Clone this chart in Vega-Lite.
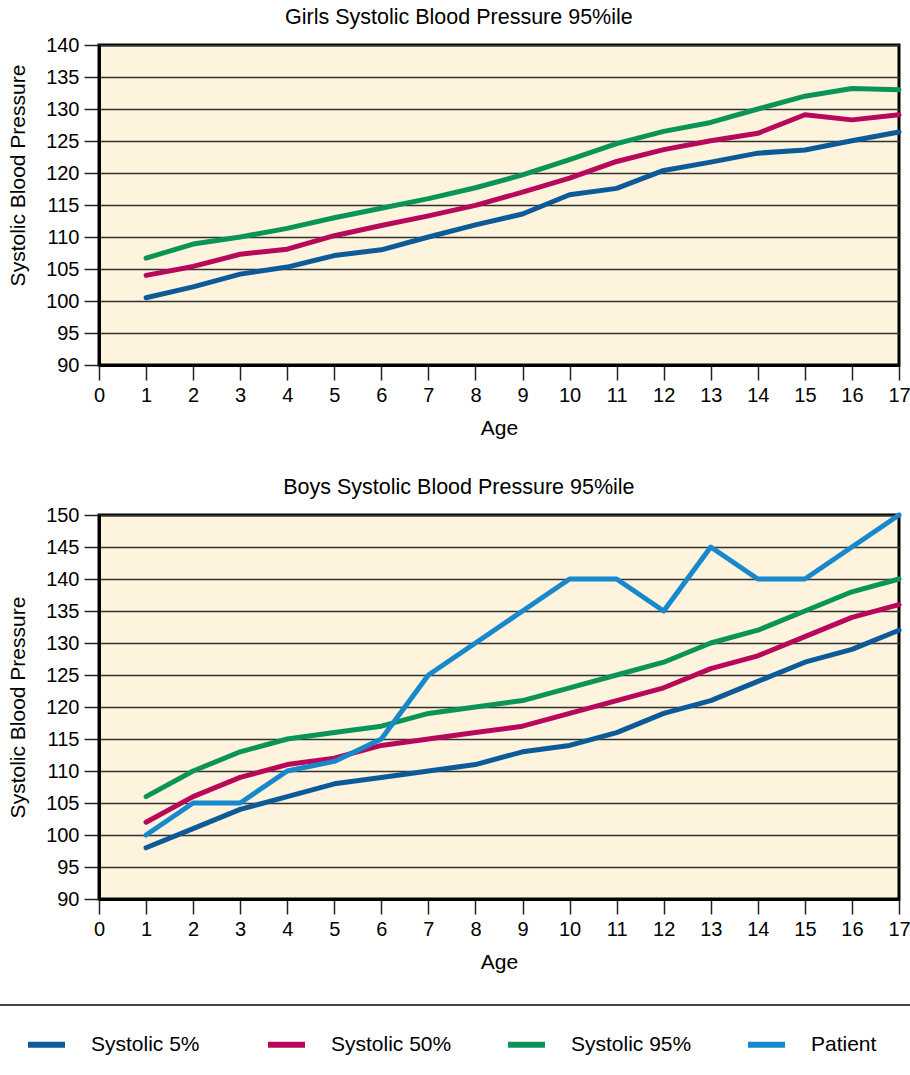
{
  "$schema": "https://vega.github.io/schema/vega-lite/v6.json",
  "background": "white",
  "padding": {"left": -14, "top": 5, "right": 0, "bottom": 0},
  "datasets": {
    "girls": [
      {"age":1,"series":"Systolic 5%","bp":100.5},{"age":2,"series":"Systolic 5%","bp":102.2},{"age":3,"series":"Systolic 5%","bp":104.2},{"age":4,"series":"Systolic 5%","bp":105.3},{"age":5,"series":"Systolic 5%","bp":107.1},{"age":6,"series":"Systolic 5%","bp":108.0},{"age":7,"series":"Systolic 5%","bp":110.0},{"age":8,"series":"Systolic 5%","bp":111.9},{"age":9,"series":"Systolic 5%","bp":113.6},{"age":10,"series":"Systolic 5%","bp":116.6},{"age":11,"series":"Systolic 5%","bp":117.6},{"age":12,"series":"Systolic 5%","bp":120.4},{"age":13,"series":"Systolic 5%","bp":121.7},{"age":14,"series":"Systolic 5%","bp":123.1},{"age":15,"series":"Systolic 5%","bp":123.6},{"age":16,"series":"Systolic 5%","bp":125.05},{"age":17,"series":"Systolic 5%","bp":126.4},
      {"age":1,"series":"Systolic 50%","bp":104.0},{"age":2,"series":"Systolic 50%","bp":105.4},{"age":3,"series":"Systolic 50%","bp":107.3},{"age":4,"series":"Systolic 50%","bp":108.1},{"age":5,"series":"Systolic 50%","bp":110.2},{"age":6,"series":"Systolic 50%","bp":111.8},{"age":7,"series":"Systolic 50%","bp":113.3},{"age":8,"series":"Systolic 50%","bp":114.95},{"age":9,"series":"Systolic 50%","bp":117.0},{"age":10,"series":"Systolic 50%","bp":119.2},{"age":11,"series":"Systolic 50%","bp":121.8},{"age":12,"series":"Systolic 50%","bp":123.65},{"age":13,"series":"Systolic 50%","bp":125.05},{"age":14,"series":"Systolic 50%","bp":126.2},{"age":15,"series":"Systolic 50%","bp":129.1},{"age":16,"series":"Systolic 50%","bp":128.3},{"age":17,"series":"Systolic 50%","bp":129.1},
      {"age":1,"series":"Systolic 95%","bp":106.7},{"age":2,"series":"Systolic 95%","bp":108.9},{"age":3,"series":"Systolic 95%","bp":110.0},{"age":4,"series":"Systolic 95%","bp":111.35},{"age":5,"series":"Systolic 95%","bp":113.0},{"age":6,"series":"Systolic 95%","bp":114.5},{"age":7,"series":"Systolic 95%","bp":116.0},{"age":8,"series":"Systolic 95%","bp":117.7},{"age":9,"series":"Systolic 95%","bp":119.7},{"age":10,"series":"Systolic 95%","bp":122.1},{"age":11,"series":"Systolic 95%","bp":124.6},{"age":12,"series":"Systolic 95%","bp":126.5},{"age":13,"series":"Systolic 95%","bp":127.9},{"age":14,"series":"Systolic 95%","bp":130.0},{"age":15,"series":"Systolic 95%","bp":132.0},{"age":16,"series":"Systolic 95%","bp":133.2},{"age":17,"series":"Systolic 95%","bp":133.0}
    ],
    "boys": [
      {"age":1,"series":"Systolic 5%","bp":98},{"age":2,"series":"Systolic 5%","bp":101},{"age":3,"series":"Systolic 5%","bp":104},{"age":4,"series":"Systolic 5%","bp":106},{"age":5,"series":"Systolic 5%","bp":108},{"age":6,"series":"Systolic 5%","bp":109},{"age":7,"series":"Systolic 5%","bp":110},{"age":8,"series":"Systolic 5%","bp":111},{"age":9,"series":"Systolic 5%","bp":113},{"age":10,"series":"Systolic 5%","bp":114},{"age":11,"series":"Systolic 5%","bp":116},{"age":12,"series":"Systolic 5%","bp":119},{"age":13,"series":"Systolic 5%","bp":121},{"age":14,"series":"Systolic 5%","bp":124},{"age":15,"series":"Systolic 5%","bp":127},{"age":16,"series":"Systolic 5%","bp":129},{"age":17,"series":"Systolic 5%","bp":132},
      {"age":1,"series":"Systolic 50%","bp":102},{"age":2,"series":"Systolic 50%","bp":106},{"age":3,"series":"Systolic 50%","bp":109},{"age":4,"series":"Systolic 50%","bp":111},{"age":5,"series":"Systolic 50%","bp":112},{"age":6,"series":"Systolic 50%","bp":114},{"age":7,"series":"Systolic 50%","bp":115},{"age":8,"series":"Systolic 50%","bp":116},{"age":9,"series":"Systolic 50%","bp":117},{"age":10,"series":"Systolic 50%","bp":119},{"age":11,"series":"Systolic 50%","bp":121},{"age":12,"series":"Systolic 50%","bp":123},{"age":13,"series":"Systolic 50%","bp":126},{"age":14,"series":"Systolic 50%","bp":128},{"age":15,"series":"Systolic 50%","bp":131},{"age":16,"series":"Systolic 50%","bp":134},{"age":17,"series":"Systolic 50%","bp":136},
      {"age":1,"series":"Systolic 95%","bp":106},{"age":2,"series":"Systolic 95%","bp":110},{"age":3,"series":"Systolic 95%","bp":113},{"age":4,"series":"Systolic 95%","bp":115},{"age":5,"series":"Systolic 95%","bp":116},{"age":6,"series":"Systolic 95%","bp":117},{"age":7,"series":"Systolic 95%","bp":119},{"age":8,"series":"Systolic 95%","bp":120},{"age":9,"series":"Systolic 95%","bp":121},{"age":10,"series":"Systolic 95%","bp":123},{"age":11,"series":"Systolic 95%","bp":125},{"age":12,"series":"Systolic 95%","bp":127},{"age":13,"series":"Systolic 95%","bp":130},{"age":14,"series":"Systolic 95%","bp":132},{"age":15,"series":"Systolic 95%","bp":135},{"age":16,"series":"Systolic 95%","bp":138},{"age":17,"series":"Systolic 95%","bp":140},
      {"age":1,"series":"Patient","bp":100},{"age":2,"series":"Patient","bp":105},{"age":3,"series":"Patient","bp":105},{"age":4,"series":"Patient","bp":110},{"age":5,"series":"Patient","bp":111.5},{"age":6,"series":"Patient","bp":115},{"age":7,"series":"Patient","bp":125},{"age":8,"series":"Patient","bp":130},{"age":9,"series":"Patient","bp":135},{"age":10,"series":"Patient","bp":140},{"age":11,"series":"Patient","bp":140},{"age":12,"series":"Patient","bp":135},{"age":13,"series":"Patient","bp":145},{"age":14,"series":"Patient","bp":140},{"age":15,"series":"Patient","bp":140},{"age":16,"series":"Patient","bp":145},{"age":17,"series":"Patient","bp":150}
    ]
  },
  "vconcat": [
    {
      "title": {"text": "Girls Systolic Blood Pressure 95%ile"},
      "width": 800,
      "height": 320,
      "data": {"name": "girls"},
      "mark": {"type": "line", "strokeWidth": 5, "strokeCap": "round", "strokeJoin": "round"},
      "encoding": {
        "x": {"field": "age", "type": "quantitative", "title": "Age",
              "scale": {"domain": [0, 17], "nice": false, "zero": false},
              "axis": {"values": [0,1,2,3,4,5,6,7,8,9,10,11,12,13,14,15,16,17]}},
        "y": {"field": "bp", "type": "quantitative", "title": "Systolic Blood Pressure",
              "scale": {"domain": [90, 140], "nice": false, "zero": false},
              "axis": {"values": [90,95,100,105,110,115,120,125,130,135,140], "titleY": 130}},
        "color": {"field": "series", "type": "nominal",
                  "scale": {"domain": ["Systolic 5%", "Systolic 50%", "Systolic 95%", "Patient"],
                            "range": ["#0d5a98", "#b8085c", "#0a9556", "#1688cb"]}}
      }
    },
    {
      "title": {"text": "Boys Systolic Blood Pressure 95%ile"},
      "width": 800,
      "height": 384,
      "data": {"name": "boys"},
      "mark": {"type": "line", "strokeWidth": 5, "strokeCap": "round", "strokeJoin": "round"},
      "encoding": {
        "x": {"field": "age", "type": "quantitative", "title": "Age",
              "scale": {"domain": [0, 17], "nice": false, "zero": false},
              "axis": {"values": [0,1,2,3,4,5,6,7,8,9,10,11,12,13,14,15,16,17]}},
        "y": {"field": "bp", "type": "quantitative", "title": "Systolic Blood Pressure",
              "scale": {"domain": [90, 150], "nice": false, "zero": false},
              "axis": {"values": [90,95,100,105,110,115,120,125,130,135,140,145,150]}},
        "color": {"field": "series", "type": "nominal",
                  "scale": {"domain": ["Systolic 5%", "Systolic 50%", "Systolic 95%", "Patient"],
                            "range": ["#0d5a98", "#b8085c", "#0a9556", "#1688cb"]},
                  "legend": {"orient": "none", "legendX": -112, "legendY": 960, "direction": "horizontal",
                             "title": " ", "titleOrient": "right", "titlePadding": 40, "titleFontSize": 8}}
      }
    }
  ],
  "spacing": 35,
  "resolve": {"scale": {"color": "shared"}, "legend": {"color": "shared"}},
  "config": {
    "font": "Liberation Sans",
    "view": {"stroke": "black", "strokeWidth": 3, "fill": "#fef3dc"},
    "title": {"font": "Liberation Sans", "fontSize": 21.5, "fontWeight": "normal", "color": "black", "frame": "bounds", "anchor": "middle", "offset": 7},
    "axis": {
      "labelFont": "Liberation Sans", "labelFontSize": 20, "labelColor": "black",
      "titleFont": "Liberation Sans", "titleFontSize": 21, "titleFontWeight": "normal", "titleColor": "black",
      "tickColor": "#222", "tickWidth": 1.5, "tickSize": 15,
      "gridColor": "#333", "gridWidth": 1.5, "gridOpacity": 1,
      "domainColor": "black", "domainWidth": 3
    },
    "axisX": {"grid": false, "labelPadding": 5, "titlePadding": 12, "labelFlush": false},
    "axisY": {"grid": true, "labelPadding": 5, "titlePadding": 17},
    "legend": {
      "symbolType": "stroke", "symbolSize": 1369, "symbolStrokeWidth": 6, "symbolOffset": 20,
      "labelFont": "Liberation Sans", "labelFontSize": 21, "labelColor": "black",
      "labelOffset": 23, "columnPadding": 33, "gridAlign": "all",
      "strokeColor": "#444", "strokeWidth": 2, "strokeDash": [1000, 4000], "padding": 18
    }
  }
}
